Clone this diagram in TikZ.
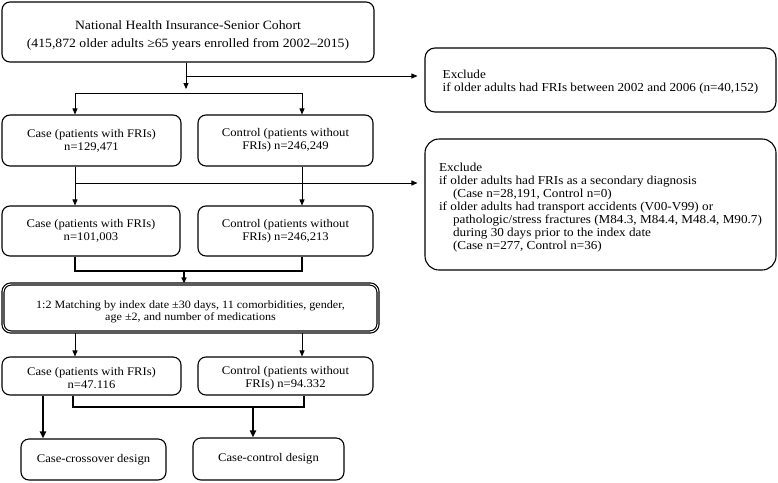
\documentclass[tikz,border=0pt]{standalone}
\usepackage{fontspec}
\setmainfont{Liberation Serif}[FakeStretch=1.08]
\usetikzlibrary{arrows.meta,calc}
\begin{document}
\begin{tikzpicture}[x=1pt,y=-1pt,
  every node/.style={font=\fontsize{11.7}{13}\selectfont},
  box/.style={draw,line width=1.1pt,rounded corners=8pt,align=center,inner sep=0pt},
  exbox/.style={draw,line width=1.1pt,rounded corners=10pt,align=left,inner sep=0pt,font=\fontsize{12.2}{13}\selectfont},
  arr/.style={line width=0.8pt,-{Triangle[length=6pt,width=5pt]}},
  thin/.style={line width=0.8pt},
  thick3/.style={line width=2.4pt},
  thickarr/.style={line width=1.8pt,-{Triangle[length=7pt,width=6pt]}}
]
\useasboundingbox (0,0) rectangle (778,482);
\node[box,minimum width=372pt,minimum height=60pt,font=\fontsize{12.7}{14}\selectfont] (top) at (188,32)
  {\rule{0pt}{15pt}National Health Insurance-Senior Cohort\\[4pt](415,872 older adults ≥65 years enrolled from 2002–2015)};
\node[exbox,minimum width=351pt,minimum height=64pt] (ex1) at (600.5,80)
  {\rule{0pt}{13pt}Exclude\\if older adults had FRIs between 2002 and 2006 (n=40,152)};
\node[exbox,rounded corners=14pt,minimum width=351pt,minimum height=131pt] (ex2) at (600.5,204.5)
  {\rule{0pt}{15pt}Exclude\\
   if older adults had FRIs as a secondary diagnosis\\
   \hspace*{14pt}(Case n=28,191, Control n=0)\\
   if older adults had transport accidents (V00-V99) or\\
   \hspace*{14pt}pathologic/stress fractures (M84.3, M84.4, M48.4, M90.7)\\
   \hspace*{14pt}during 30 days prior to the index date\\
   \hspace*{14pt}(Case n=277, Control n=36)};
\node[box,minimum width=179pt,minimum height=51pt] (case1) at (91.5,140.5)
  {Case (patients with FRIs)\\n=129,471};
\node[box,minimum width=175pt,minimum height=51pt] (ctrl1) at (285.5,140.5)
  {Control (patients without\\FRIs) n=246,249};
\node[box,minimum width=178pt,minimum height=50pt] (case2) at (91,231)
  {Case (patients with FRIs)\\n=101,003};
\node[box,minimum width=175pt,minimum height=50pt] (ctrl2) at (285.5,231)
  {Control (patients without\\FRIs) n=246,213};
\node[box,double,double distance=0.9pt,line width=1.2pt,minimum width=375pt,minimum height=48pt,font=\fontsize{11.2}{12.5}\selectfont] (match) at (190.5,308)
  {\rule{0pt}{15pt}1:2 Matching by index date ±30 days, 11 comorbidities, gender,\\age ±2, and number of medications};
\node[box,minimum width=179pt,minimum height=38pt] (case3) at (91.5,376)
  {\rule{0pt}{13pt}Case (patients with FRIs)\\n=47.116};
\node[box,minimum width=175pt,minimum height=38pt] (ctrl3) at (285.5,376)
  {\rule{0pt}{13pt}Control (patients without\\FRIs) n=94.332};
\node[box,minimum width=145pt,minimum height=41pt] (cross) at (93.5,459.5)
  {Case-crossover design};
\node[box,minimum width=151pt,minimum height=42pt] (cc) at (268.5,459)
  {Case-control design};
% top split
\coordinate (j1) at (186,76);
\coordinate (s1) at (75,93);
\coordinate (s2) at (302,93);
\draw[arr] (top.south -| j1) -- (186,89);
\draw[arr,shorten >=7pt] (j1) -- (j1 -| ex1.west);
\draw[thin] (s1) -- (s2);
\draw[arr] (s1) -- (s1 |- case1.north);
\draw[arr] (s2) -- (s2 |- ctrl1.north);
% second stage
\coordinate (j2) at (75,183);
\draw[arr] (case1.south -| j2) -- (case2.north -| j2);
\draw[arr] (ctrl1.south -| s2) -- (ctrl2.north -| s2);
\draw[arr,shorten >=7pt] (j2) -- (j2 -| ex2.west);
% merge into matching
\coordinate (m1) at (75,271);
\coordinate (m2) at (302,271);
\coordinate (m3) at (184,271);
\draw[thick3] (case2.south -| m1) -- (m1) -- (m2) -- (ctrl2.south -| m2);
\draw[arr,line width=1.2pt] (m3) -- (match.north -| m3);
% matching to groups
\draw[arr] (match.south -| m1) -- (case3.north -| m1);
\draw[arr] (match.south -| m2) -- (ctrl3.north -| m2);
% designs
\coordinate (d0) at (43,395);
\coordinate (d1) at (73,407);
\coordinate (d2) at (304,407);
\coordinate (d3) at (253,407);
\draw[thickarr] (case3.south -| d0) -- (cross.north -| d0);
\draw[line width=1.5pt] (case3.south -| d1) -- (d1) -- (d2) -- (ctrl3.south -| d2);
\draw[thickarr] (d3) -- (cc.north -| d3);
\end{tikzpicture}
\end{document}
